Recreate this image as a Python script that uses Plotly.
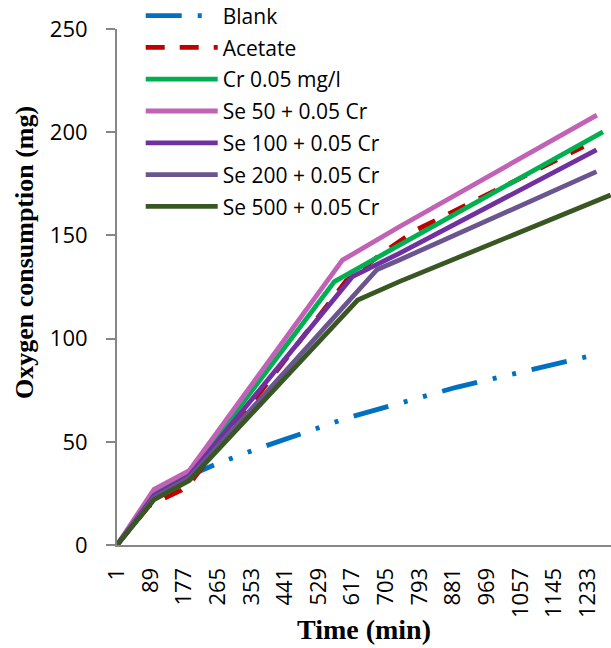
import plotly.graph_objects as go

# ---- data ----
tick_labels = [1, 89, 177, 265, 353, 441, 529, 617, 705, 793, 881, 969, 1057, 1145, 1233]

blank_t = [1, 93, 190, 255, 365, 504, 601, 889, 1230]
blank_v = [0, 21, 33.5, 38.8, 46.4, 54.9, 61.4, 76.4, 91.2]

acetate_t = [1, 85, 169, 190, 601, 700, 784, 1222]
acetate_v = [0, 19, 26.6, 29.5, 128, 142, 152.6, 193]

cr_t = [1, 98, 190, 570, 740, 1273]
cr_v = [0, 25, 34.5, 127.6, 145.3, 200.2]

se50_t = [1, 98, 190, 591, 740, 1257]
se50_v = [0, 27, 36, 138, 154.2, 208.3]

se100_t = [1, 98, 190, 617, 740, 1256]
se100_v = [0, 24, 33.5, 130, 141.3, 191.4]

se200_t = [1, 98, 190, 682, 740, 1256]
se200_v = [0, 23, 32.5, 133.5, 138.1, 180.9]

se500_t = [1, 98, 190, 631, 740, 1293]
se500_v = [0, 22, 31.2, 118.7, 127.6, 169.6]

series = [
    ("Blank", blank_t, blank_v, "#0070C0", "36px,16px,4px,16px,4px,16px"),
    ("Acetate", acetate_t, acetate_v, "#C00000", "19px,15px"),
    ("Cr 0.05 mg/l", cr_t, cr_v, "#00B050", "solid"),
    ("Se 50 + 0.05 Cr", se50_t, se50_v, "#C162B6", "solid"),
    ("Se 100 + 0.05 Cr", se100_t, se100_v, "#7030A0", "solid"),
    ("Se 200 + 0.05 Cr", se200_t, se200_v, "#6B558F", "solid"),
    ("Se 500 + 0.05 Cr", se500_t, se500_v, "#385723", "solid"),
]

fig = go.Figure()
for i, (name, t, v, color, dash) in enumerate(series):
    fig.add_trace(go.Scatter(
        x=t, y=v, name=name, mode="lines", legendgroup=f"g{i}",
        line=dict(color=color, width=4.8, dash=dash),
    ))

font_sans = "Open Sans, Liberation Sans, sans-serif"
font_serif = "Liberation Serif, Times New Roman, serif"

fig.update_layout(
    width=611, height=648, autosize=False,
    margin=dict(l=117, r=0, t=29, b=103, autoexpand=False),
    paper_bgcolor="white", plot_bgcolor="white",
    font=dict(family=font_sans, size=22, color="black"),
    showlegend=True,
    legend=dict(
        x=0.048, y=1.065, xanchor="left", yanchor="top",
        bgcolor="rgba(0,0,0,0)", font=dict(size=21),
        itemwidth=72, tracegroupgap=1.5,
    ),
    xaxis=dict(
        range=[1, 1294], tickmode="array", tickvals=tick_labels,
        ticktext=[str(v) for v in tick_labels], tickangle=-90,
        showgrid=False, zeroline=False, showline=True, automargin=False,
        linecolor="#868686", linewidth=2, ticks="",
        ticklabelstandoff=12,
        title=dict(text="<b>Time (min)</b>", font=dict(family=font_serif, size=28), standoff=2),
    ),
    yaxis=dict(
        range=[0, 250], tickvals=[0, 50, 100, 150, 200, 250],
        showgrid=False, zeroline=False, showline=True, automargin=False,
        linecolor="#868686", linewidth=2, ticks="outside", ticklen=9,
        tickcolor="#868686", tickwidth=2, ticklabelstandoff=14,
    ),
    annotations=[dict(
        text="<b>Oxygen consumption (mg)</b>", textangle=-90,
        xref="paper", yref="paper", x=-0.186, y=0.566,
        xanchor="center", yanchor="middle", showarrow=False,
        font=dict(family=font_serif, size=26, color="black"),
    )],
)

fig.write_html(
    "out.html",
    config={"responsive": False, "displayModeBar": False},
    post_script="document.body.style.margin='0';document.body.style.overflow='hidden';",
)
